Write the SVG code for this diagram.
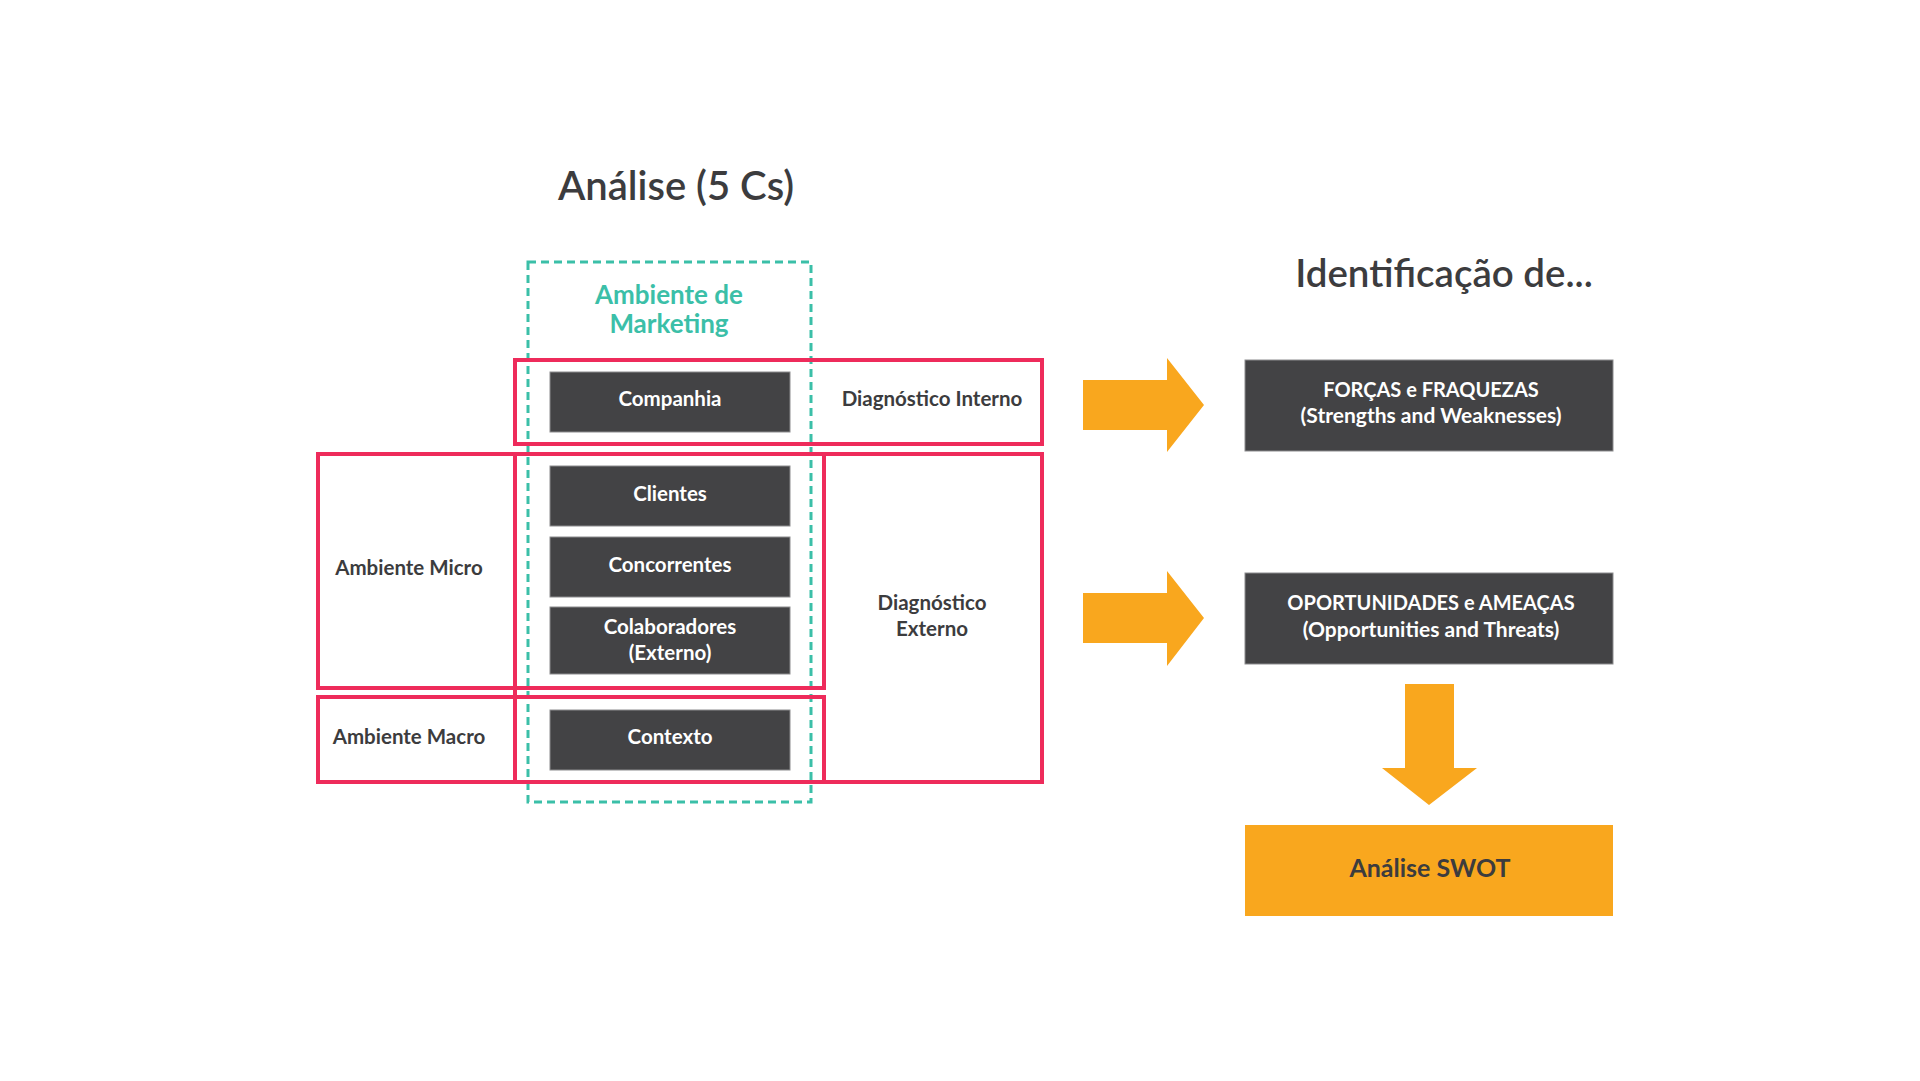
<svg xmlns="http://www.w3.org/2000/svg" width="1920" height="1081" viewBox="0 0 1920 1081">
<style>
text{font-family:Lato,"Open Sans","Liberation Sans",sans-serif;text-anchor:middle}
.title{font-size:40px;font-weight:600;fill:#3c3c3e}
.lbl{font-size:20.5px;font-weight:700;fill:#3c3c3e}
.wt{font-size:20.5px;font-weight:700;fill:#ffffff}
.wt2{font-size:20px;font-weight:700;fill:#ffffff}
.teal{font-size:26px;font-weight:700;fill:#3bbfa8}
.box{fill:#434345;stroke:#8c8c8e;stroke-width:1}
.pink{fill:none;stroke:#ee2b5b;stroke-width:4}
.dash{fill:none;stroke:#3bbfa8;stroke-width:3;stroke-dasharray:8 5}
.arrow{fill:#f9a71e}
</style>
<rect width="1920" height="1081" fill="#ffffff"/>
<text class="title" x="676" y="200">Análise (5 Cs)</text>
<text class="title" x="1444" y="287" style="font-size:38.5px">Identificação de...</text>
<g id="marketing-env">
<rect class="dash" x="528" y="262" width="283" height="540"/>
<text class="teal" x="669" y="304">Ambiente de</text>
<text class="teal" x="669" y="333">Marketing</text>
</g>
<g id="frames">
<rect class="pink" x="515" y="360" width="527" height="84"/>
<rect class="pink" x="515" y="454" width="527" height="328"/>
<rect class="pink" x="318" y="454" width="197" height="234"/>
<rect class="pink" x="515" y="454" width="309" height="234"/>
<rect class="pink" x="318" y="697" width="197" height="85"/>
<rect class="pink" x="515" y="697" width="309" height="85"/>
</g>
<g id="labels">
<text class="lbl" x="932" y="406">Diagnóstico Interno</text>
<text class="lbl" x="932" y="610">Diagnóstico</text>
<text class="lbl" x="932" y="636">Externo</text>
<text class="lbl" x="409" y="575">Ambiente Micro</text>
<text class="lbl" x="409" y="744">Ambiente Macro</text>
</g>
<g id="companhia"><rect class="box" x="550" y="372" width="240" height="60"/><text class="wt" x="670" y="406">Companhia</text></g>
<g id="clientes"><rect class="box" x="550" y="466" width="240" height="60"/><text class="wt" x="670" y="501">Clientes</text></g>
<g id="concorrentes"><rect class="box" x="550" y="537" width="240" height="60"/><text class="wt" x="670" y="572">Concorrentes</text></g>
<g id="colaboradores"><rect class="box" x="550" y="607" width="240" height="67"/><text class="wt" x="670" y="634">Colaboradores</text><text class="wt" x="670" y="660">(Externo)</text></g>
<g id="contexto"><rect class="box" x="550" y="710" width="240" height="60"/><text class="wt" x="670" y="744">Contexto</text></g>
<g id="forcas"><rect class="box" x="1245" y="360" width="368" height="91"/><text class="wt2" x="1431" y="397">FORÇAS e FRAQUEZAS</text><text class="wt2" x="1431" y="423" style="font-size:21px">(Strengths and Weaknesses)</text></g>
<g id="oportunidades"><rect class="box" x="1245" y="573" width="368" height="91"/><text class="wt2" x="1431" y="610">OPORTUNIDADES e AMEAÇAS</text><text class="wt2" x="1431" y="637" style="font-size:21px">(Opportunities and Threats)</text></g>
<g id="swot"><rect x="1245" y="825" width="368" height="91" fill="#f9a71e"/><text x="1430" y="877" style="font-size:25px;font-weight:700;fill:#3c3c3e">Análise SWOT</text></g>
<g id="connectors">
<polygon class="arrow" points="1083,380 1167,380 1167,358 1204,405 1167,452 1167,430 1083,430"/>
<polygon class="arrow" points="1083,593 1167,593 1167,571 1204,618 1167,666 1167,643 1083,643"/>
<polygon class="arrow" points="1405,684 1454,684 1454,768 1477,768 1429,805 1382,768 1405,768"/>
</g>
</svg>
